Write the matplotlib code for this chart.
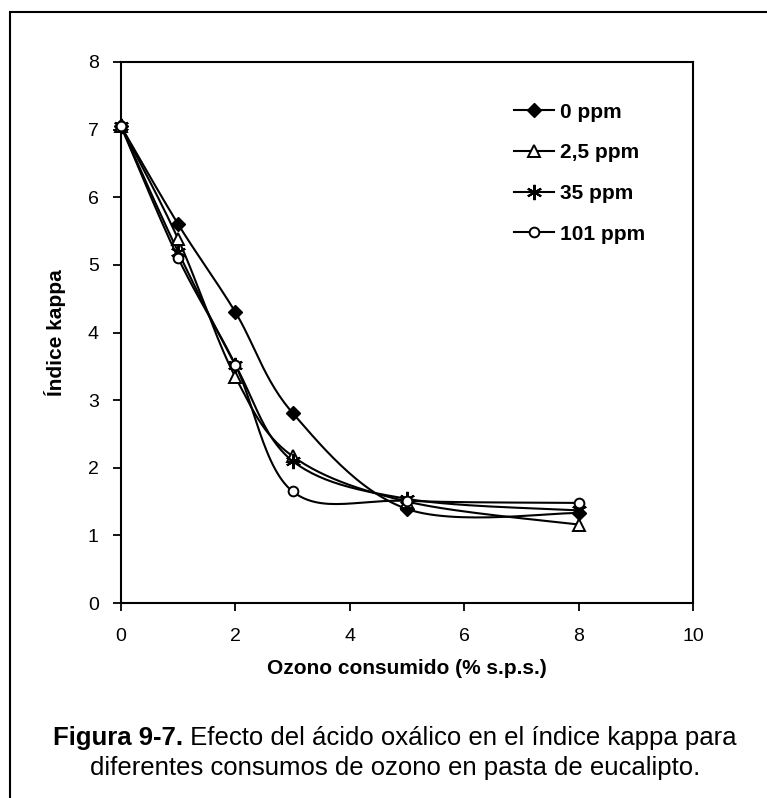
import numpy as np
import matplotlib
matplotlib.use("Agg")
import matplotlib.pyplot as plt
from matplotlib.lines import Line2D
from matplotlib.patches import Rectangle

plt.rcParams['font.family'] = ['Liberation Sans', 'DejaVu Sans']

x_vals = [0, 1, 2, 3, 5, 8]
series_names = ["0 ppm", "2,5 ppm", "35 ppm", "101 ppm"]
kappa_0 = [7.05, 5.6, 4.3, 2.81, 1.39, 1.33]
kappa_25 = [7.05, 5.38, 3.34, 2.17, 1.5, 1.16]
kappa_35 = [7.05, 5.19, 3.52, 2.1, 1.54, 1.37]
kappa_101 = [7.05, 5.1, 3.52, 1.65, 1.51, 1.48]
x_ticks = [0, 2, 4, 6, 8, 10]
y_ticks = [0, 1, 2, 3, 4, 5, 6, 7, 8]


def smooth(xs, ys, n=30):
    # Bezier smoothing of the drawn line only (like Excel smoothed lines)
    xs = np.asarray(xs, float); ys = np.asarray(ys, float)
    px = np.concatenate([[xs[0]], xs, [xs[-1]]])
    py = np.concatenate([[ys[0]], ys, [ys[-1]]])
    ox, oy = [], []
    for i in range(1, len(px) - 2):
        p0 = np.array([px[i - 1], py[i - 1]]); p1 = np.array([px[i], py[i]])
        p2 = np.array([px[i + 1], py[i + 1]]); p3 = np.array([px[i + 2], py[i + 2]])
        c1 = p1 + (p2 - p0) / 6.0
        c2 = p2 - (p3 - p1) / 6.0
        t = np.linspace(0, 1, n)[:, None]
        b = ((1 - t) ** 3) * p1 + 3 * ((1 - t) ** 2) * t * c1 + 3 * (1 - t) * t ** 2 * c2 + t ** 3 * p2
        ox.extend(b[:, 0]); oy.extend(b[:, 1])
    return ox, oy


W, H = 767, 798
fig = plt.figure(figsize=(W / 100, H / 100), dpi=100)
fig.patches.append(Rectangle((10 / W, -0.05), 1.2, (1 - 12 / H) + 0.05, transform=fig.transFigure,
                             fill=False, edgecolor='black', linewidth=1.5, clip_on=False))
ax = fig.add_axes([121 / W, 1 - 603 / H, 572 / W, 541 / H])

styles = [
    dict(marker='D', markersize=7, markerfacecolor='black', markeredgecolor='black'),
    dict(marker='^', markersize=9, markerfacecolor='white', markeredgecolor='black', markeredgewidth=1.4),
    dict(marker=(6, 2, 0), markersize=11, markerfacecolor='black', markeredgecolor='black', markeredgewidth=1.5),
    dict(marker='o', markersize=7, markerfacecolor='white', markeredgecolor='black', markeredgewidth=1.4),
]
data = [kappa_0, kappa_25, kappa_35, kappa_101]
handles = []
for name, ys, st in zip(series_names, data, styles):
    sx, sy = smooth(x_vals, ys)
    ax.plot(sx, sy, color='black', linewidth=1.5, zorder=2)
    ax.plot(x_vals, ys, linestyle='none', zorder=3, clip_on=False, **st)
    handles.append(Line2D([0], [0], color='black', linewidth=1.5, **st))

ax.set_xlim(0, 10)
ax.set_ylim(0, 8)
ax.set_xticks(x_ticks)
ax.set_yticks(y_ticks)
ax.tick_params(direction='out', length=6, width=1.3, labelsize=14)
ax.tick_params(axis='x', pad=12)
ax.tick_params(axis='y', pad=10)
for s in ax.spines.values():
    s.set_linewidth(1.5)
ax.set_xlabel("Ozono consumido (% s.p.s.)", fontsize=15, fontweight='bold', labelpad=10)
ax.set_ylabel("Índice kappa", fontsize=15, fontweight='bold', labelpad=16)

leg = ax.legend(handles, series_names, loc='upper left', bbox_to_anchor=(0.687, 0.925),
                frameon=False, prop=dict(weight='bold', size=15), handlelength=1.9,
                handletextpad=0.3, labelspacing=1.04, borderpad=0, borderaxespad=0)

# caption with mixed weight
fig.canvas.draw()
r = fig.canvas.get_renderer()
cap_size = 18.5
bold_part = "Figura 9-7."
rest1 = " Efecto del ácido oxálico en el índice kappa para"
t1 = fig.text(0, 0, bold_part, fontsize=cap_size, fontweight='bold', va='baseline')
t2 = fig.text(0, 0, rest1, fontsize=cap_size, va='baseline')
w1 = t1.get_window_extent(r).width
w2 = t2.get_window_extent(r).width
cx = 395
y1 = 1 - 745 / H
x0 = cx - (w1 + w2) / 2
t1.set_position((x0 / W, y1))
t2.set_position(((x0 + w1) / W, y1))
fig.text(cx / W, 1 - 775 / H, "diferentes consumos de ozono en pasta de eucalipto.",
         fontsize=cap_size, ha='center', va='baseline')

fig.savefig("out.png", dpi=100)
